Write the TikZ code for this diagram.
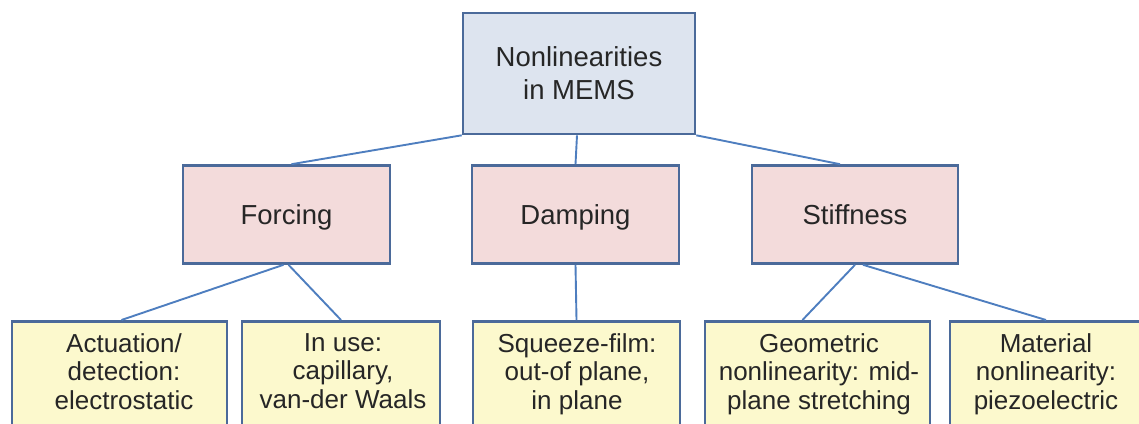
\documentclass[tikz,border=0pt]{standalone}
\usepackage{fontspec}
\setmainfont{Liberation Sans}
\usetikzlibrary{calc}
\definecolor{boxline}{HTML}{4B6A9A}
\definecolor{conn}{HTML}{4E7EBF}
\definecolor{topfill}{HTML}{DDE4EF}
\definecolor{midfill}{HTML}{F3DBDB}
\definecolor{botfill}{HTML}{FCF9CD}
\tikzset{
  box/.style={draw=boxline, line width=2.6pt, inner sep=0pt, rectangle},
  topbox/.style={box, fill=topfill, align=center, font=\fontsize{27.5}{33}\selectfont},
  midbox/.style={box, fill=midfill, text height=20pt, text depth=0pt, font=\fontsize{27.5}{33}\selectfont},
  botbox/.style={box, fill=botfill, anchor=north},
  bottext/.style={anchor=north, inner sep=0pt, align=center, font=\fontsize{26}{28.5}\selectfont, text=black!85},
  conn/.style={draw=conn, line width=1.9pt}
}
\begin{document}
\begin{tikzpicture}[x=1pt,y=-1pt]
\useasboundingbox (0,0) rectangle (1139,423);
\clip (0,0) rectangle (1139,423);
% top
\node[topbox, minimum width=232pt, minimum height=121pt, text=black!85] (top) at (579,73.5) {Nonlinearities\\in MEMS};
% middle
\node[midbox, minimum width=207pt, minimum height=98pt, text=black!85] (forcing) at (286.5,214.5) {Forcing};
\node[midbox, minimum width=207pt, minimum height=98pt, text=black!85] (damping) at (575.5,214.5) {Damping};
\node[midbox, minimum width=206pt, minimum height=98pt, text=black!85] (stiff) at (855,214.5) {Stiffness};
% bottom boxes
\node[botbox, minimum width=215pt, minimum height=130pt] (b1) at (119.5,320) {};
\node[botbox, minimum width=198pt, minimum height=130pt] (b2) at (341,320) {};
\node[botbox, minimum width=207pt, minimum height=130pt] (b3) at (576.5,320) {};
\node[botbox, minimum width=225pt, minimum height=130pt] (b4) at (817.5,320) {};
\node[botbox, minimum width=192pt, minimum height=130pt] (b5) at (1046,320) {};
% bottom texts
\node[bottext] (t1) at (124,333) {Actuation/\\detection:\\electrostatic};
\node[bottext] (t2) at (343,333) {In use:\\capillary,\\van-der Waals};
\node[bottext] (t3) at (577,333) {Squeeze-film:\\out-of plane,\\in plane};
\node[bottext] (t4) at (819,333) {Geometric\\nonlinearity: mid-\\plane stretching};
\node[bottext] (t5) at (1046,333) {Material\\nonlinearity:\\piezoelectric};
% connectors
\draw[conn] (top.south west) -- ([xshift=5pt]forcing.north);
\draw[conn] ([xshift=-2pt]top.south) -- (damping.north);
\draw[conn] (top.south east) -- ([xshift=-15pt]stiff.north);
\draw[conn] ([xshift=-3pt]forcing.south) -- ([xshift=2pt]b1.north);
\draw[conn] ([xshift=2pt]forcing.south) -- (b2.north);
\draw[conn] (damping.south) -- (b3.north);
\draw[conn] (stiff.south) -- ([xshift=-15pt]b4.north);
\draw[conn] ([xshift=8pt]stiff.south) -- (b5.north);
\end{tikzpicture}
\end{document}
